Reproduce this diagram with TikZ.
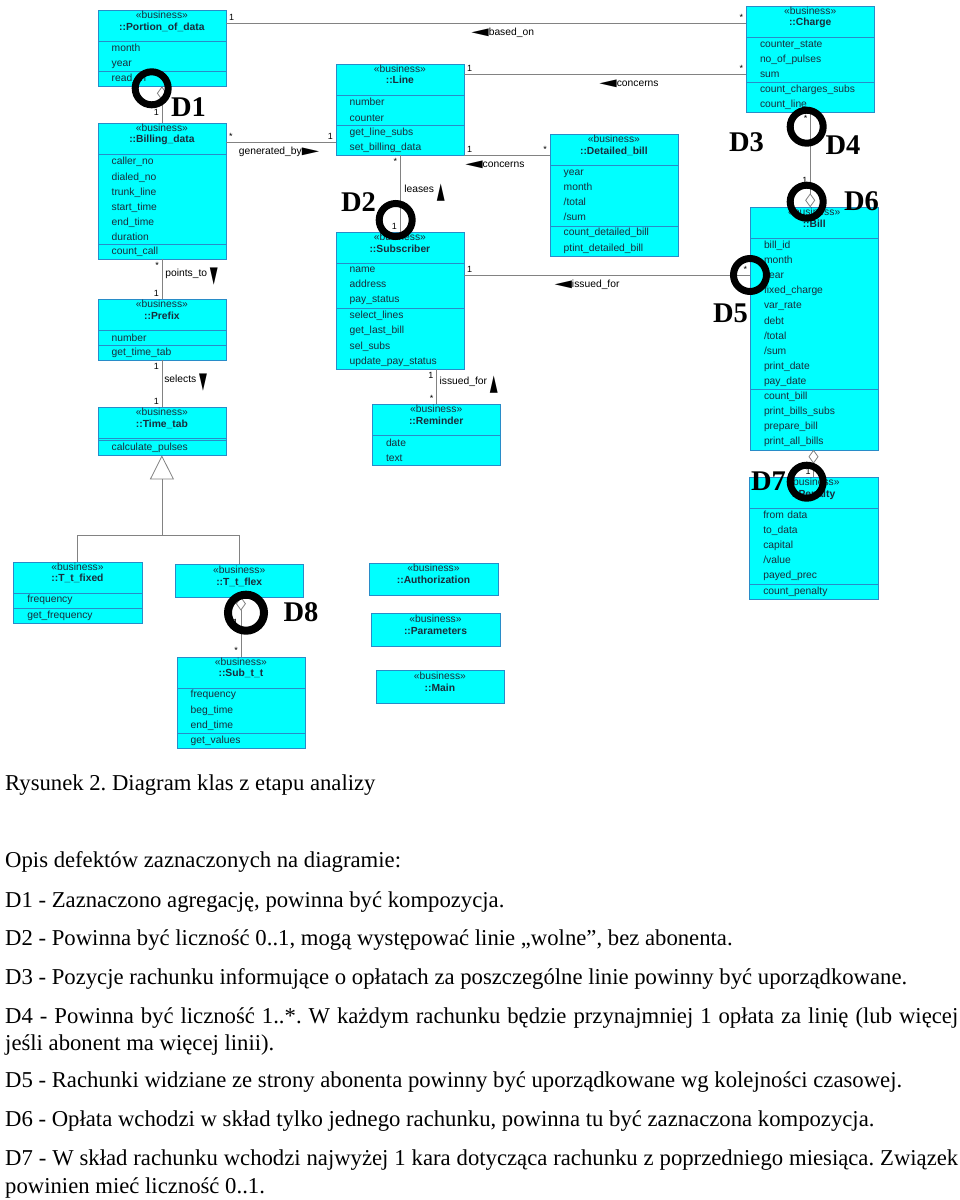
\documentclass[tikz,border=0pt]{standalone}
\usepackage{fontspec}
\setmainfont{Liberation Serif}
\setsansfont{Liberation Sans}
\newfontfamily\symfont{DejaVu Sans}
\usetikzlibrary{positioning, arrows.meta, calc}
\definecolor{clsfill}{RGB}{0,255,255}
\definecolor{clsline}{RGB}{40,140,200}
\definecolor{clstext}{RGB}{25,45,60}
\definecolor{assocgray}{RGB}{130,130,130}

\begin{document}
\frenchspacing
\begin{tikzpicture}[x=1pt, y=-1pt,
          hd/.style={draw=clsline, fill=clsfill, text=clstext, align=center, outer sep=0pt,
                     font=\sffamily\fontsize{10.3}{11.7}\selectfont, inner sep=0pt,
                     minimum width=128.4pt, minimum height=31pt, text depth=9.6pt},
          comp/.style={draw=clsline, fill=clsfill, text=clstext, align=left, outer sep=0pt,
                       font=\sffamily\fontsize{10.3}{15.1}\selectfont, text width=100.4pt,
                       inner xsep=14pt, inner ysep=0pt, minimum height=#1*15.1pt},
          as/.style={draw=assocgray, line width=0.8pt},
          m/.style={font=\sffamily\fontsize{9}{10}\selectfont, inner sep=2.5pt},
          lb/.style={font=\sffamily\fontsize{10.3}{12}\selectfont, inner sep=1pt},
          ring/.style={circle, draw=black, line width=7pt, minimum size=33pt, inner sep=0pt},
          dd/.style={font=\bfseries\fontsize{28.5}{30}\selectfont, inner sep=0pt},
          txt/.style={font=\fontsize{22.7}{27}\selectfont, anchor=west, inner sep=0pt}]
        \path[fill=white, use as bounding box] (0,0) rectangle (960,1200);

        \node[hd, anchor=north west] (pod) at (97.7,10) {«business»\\\textbf{::Portion\_of\_data}};
        \node[comp=2, below=0pt of pod] (pod-a) {month\\year};
        \node[comp=1, below=0pt of pod-a] (pod-o) {read\_in};

        \node[hd, anchor=north west] (bd) at (97.7,122.7) {«business»\\\textbf{::Billing\_data}};
        \node[comp=6, below=0pt of bd] (bd-a) {caller\_no\\dialed\_no\\trunk\_line\\start\_time\\end\_time\\duration};
        \node[comp=1, below=0pt of bd-a] (bd-o) {count\_call};

        \node[hd, anchor=north west] (pf) at (97.7,299) {«business»\\\textbf{::Prefix}};
        \node[comp=1, below=0pt of pf] (pf-a) {number};
        \node[comp=1, below=0pt of pf-a] (pf-o) {get\_time\_tab};

        \node[hd, anchor=north west] (tt) at (97.7,407) {«business»\\\textbf{::Time\_tab}};
        \node[comp=0.15, below=0pt of tt] (tt-a) {};
        \node[comp=1, below=0pt of tt-a] (tt-o) {calculate\_pulses};

        \node[hd, anchor=north west] (ln) at (335.7,63.7) {«business»\\\textbf{::Line}};
        \node[comp=2, below=0pt of ln] (ln-a) {number\\counter};
        \node[comp=2, below=0pt of ln-a] (ln-o) {get\_line\_subs\\set\_billing\_data};

        \node[hd, anchor=north west] (sb) at (335.7,232.3) {«business»\\\textbf{::Subscriber}};
        \node[comp=3, below=0pt of sb] (sb-a) {name\\address\\pay\_status};
        \node[comp=4, below=0pt of sb-a] (sb-o) {select\_lines\\get\_last\_bill\\sel\_subs\\update\_pay\_status};

        \node[hd, anchor=north west] (rm) at (372,404.3) {«business»\\\textbf{::Reminder}};
        \node[comp=2, below=0pt of rm] (rm-a) {date\\text};

        \node[hd, anchor=north west] (db) at (549.7,134.3) {«business»\\\textbf{::Detailed\_bill}};
        \node[comp=4, below=0pt of db] (db-a) {year\\month\\/total\\/sum};
        \node[comp=2, below=0pt of db-a] (db-o) {count\_detailed\_bill\\ptint\_detailed\_bill};

        \node[hd, anchor=north west] (ch) at (746,5.7) {«business»\\\textbf{::Charge}};
        \node[comp=3, below=0pt of ch] (ch-a) {counter\_state\\no\_of\_pulses\\sum};
        \node[comp=2, below=0pt of ch-a] (ch-o) {count\_charges\_subs\\count\_line};

        \node[hd, anchor=north west] (bl) at (750,207.3) {«business»\\\textbf{::Bill}};
        \node[comp=10, below=0pt of bl] (bl-a) {bill\_id\\month\\year\\fixed\_charge\\var\_rate\\debt\\/total\\/sum\\print\_date\\pay\_date};
        \node[comp=4, below=0pt of bl-a] (bl-o) {count\_bill\\print\_bills\_subs\\prepare\_bill\\print\_all\_bills};

        \node[hd, anchor=north west] (pn) at (749.3,477.3) {«business»\\\textbf{::Penalty}};
        \node[comp=5, below=0pt of pn] (pn-a) {from data\\to\_data\\capital\\/value\\payed\_prec};
        \node[comp=1, below=0pt of pn-a] (pn-o) {count\_penalty};

        \node[hd, anchor=north west] (tf) at (13.3,561.7) {«business»\\\textbf{::T\_t\_fixed}};
        \node[comp=1, below=0pt of tf] (tf-a) {frequency};
        \node[comp=1, below=0pt of tf-a] (tf-o) {get\_frequency};

        \node[hd, anchor=north west, minimum height=32.4pt] (tx) at (175,564.3) {«business»\\\textbf{::T\_t\_flex}};

        \node[hd, anchor=north west] (st) at (176.7,656.7) {«business»\\\textbf{::Sub\_t\_t}};
        \node[comp=3, below=0pt of st] (st-a) {frequency\\beg\_time\\end\_time};
        \node[comp=1, below=0pt of st-a] (st-o) {get\_values};

        \node[hd, anchor=north west, minimum height=32.3pt] (au) at (369.3,562.7) {«business»\\\textbf{::Authorization}};
        \node[hd, anchor=north west, minimum height=32.7pt] (pa) at (371.3,613) {«business»\\\textbf{::Parameters}};
        \node[hd, anchor=north west, minimum height=33pt] (mn) at (375.7,670.3) {«business»\\\textbf{::Main}};

        \draw[as] ([yshift=-13pt]pod.north east) -- ([yshift=-13pt]pod.north east -| ch.west)
            node[m, pos=0, above right] {1} node[m, pos=1, above left] {*}
            node[lb, pos=.532, below=4pt] {{\symfont\scalebox{2.2}[1]{◀}}based\_on};
        \draw[as] ([yshift=-10.3pt]ln.north east) -- ([yshift=-10.3pt]ln.north east -| ch.west)
            node[m, pos=0, above right] {1} node[m, pos=1, above left] {*}
            node[lb, pos=.585, below=4pt] {{\symfont\scalebox{2.2}[1]{◀}}concerns};
        \draw[as] (ln-o.south east) -- (ln-o.south east -| db.west)
            node[m, pos=0, above right] {1} node[m, pos=1, above left] {*}
            node[lb, pos=.36, below=4pt] {{\symfont\scalebox{2.2}[1]{◀}}concerns};
        \draw[as] ([yshift=-11.7pt]sb-a.north east) -- ([yshift=-11.7pt]sb-a.north east -| bl.west)
            node[m, pos=0, above right] {1} node[m, pos=1, above left] {*}
            node[lb, pos=.43, below=4pt] {{\symfont\scalebox{2.2}[1]{◀}}issued\_for};
        \draw[as] ([yshift=-19.3pt]bd.north east) -- ([yshift=-19.3pt]bd.north east -| ln.west)
            node[m, pos=0, above right] {*} node[m, pos=1, above left] {1}
            node[lb, pos=.483, below=4pt] {generated\_by{\symfont\scalebox{2.2}[1]{▶}}};

        \draw[as, {Diamond[open, length=14pt, width=10pt]}-] (pod-o.south) -- (bd.north)
            node[m, pos=1, above left, yshift=4pt] {1};
        \draw[as] (bd-o.south) -- (pf.north)
            node[m, pos=0, below left] {*} node[m, pos=1, above left] {1}
            node[lb, pos=.425, right=2pt] {points\_to \raisebox{-6pt}{\symfont\scalebox{1}[2.2]{▼}}};
        \draw[as] (pf-o.south) -- (tt.north)
            node[m, pos=0, below left] {1} node[m, pos=1, above left] {1}
            node[lb, pos=.47, right=1pt] {selects \raisebox{-6pt}{\symfont\scalebox{1}[2.2]{▼}}};
        \draw[as, -{Triangle[open, length=24pt, width=24pt]}] (tf.north) |- ([yshift=-80pt]tt-o.south) -- (tt-o.south);
        \draw[as] (tx.north) |- ([yshift=-80pt]tt-o.south);
        \draw[as, {Diamond[open, length=14pt, width=10pt]}-] (tx.south -| st.north) -- (st.north)
            node[m, pos=.42, left] {1} node[m, pos=1, above left] {*};

        \draw[as] (ln-o.south) -- (sb.north)
            node[m, pos=0, below left] {*} node[m, pos=1, above left] {1}
            node[lb, pos=.49, right=3pt] {leases \raisebox{-6pt}{\symfont\scalebox{1}[2.2]{▲}}};
        \draw[as] (rm.north) -- (rm.north |- sb-o.south)
            node[m, pos=0, above left] {*} node[m, pos=1, below left] {1}
            node[lb, pos=.55, right=2pt] {issued\_for \raisebox{-6pt}{\symfont\scalebox{1}[2.2]{▲}}};

        \draw[as, -{Diamond[open, length=14pt, width=10pt]}] (ch-o.south) -- (ch-o.south |- bl.north)
            node[m, pos=0, below left] {*} node[m, pos=.72, left] {1};
        \draw[as, {Diamond[open, length=14pt, width=10pt]}-] (bl-o.south -| pn.north) -- (pn.north)
            node[m, pos=1, above left] {1};

        \node[ring] (r1) at (151.7,88.3) {};
        \node[ring] (r2) at (395.7,220) {};
        \node[ring] (r4) at (806.7,126.7) {};
        \node[ring] (r6) at (806.7,201.7) {};
        \node[ring] (r5) at (750,275) {};
        \node[ring] (r7) at (806.7,481.7) {};
        \node[ring, line width=8pt, minimum size=36pt] (r8) at (246,612.7) {};
        \node[dd] (d1) at (188.5,107.5) {D1};
        \node[dd] (d2) at (358.5,202) {D2};
        \node[dd] (d3) at (746.5,142) {D3};
        \node[dd] (d4) at (843,145) {D4};
        \node[dd] (d5) at (730.5,313) {D5};
        \node[dd] (d6) at (861.5,201) {D6};
        \node[dd] (d7) at (768.5,481) {D7};
        \node[dd] (d8) at (301,612) {D8};

        \node[txt] (cap) at (5,785) {Rysunek 2. Diagram klas z etapu analizy};
        \node[txt] (opis) at (5,862) {Opis defektów zaznaczonych na diagramie:};
        \node[txt] (t1) at (5,902) {D1 - Zaznaczono agregację, powinna być kompozycja.};
        \node[txt] (t2) at (5,940) {D2 - Powinna być liczność 0..1, mogą występować linie „wolne”, bez abonenta.};
        \node[txt] (t3) at (5,979) {D3 - Pozycje rachunku informujące o opłatach za poszczególne linie powinny być uporządkowane.};
        \node[txt] (t4) at (5,1018) {\makebox[953pt][s]{D4 - Powinna być liczność 1..*. W każdym rachunku będzie przynajmniej 1 opłata za linię (lub więcej}};
        \node[txt] (t4b) at (5,1045) {jeśli abonent ma więcej linii).};
        \node[txt] (t5) at (5,1082) {D5 - Rachunki widziane ze strony abonenta powinny być uporządkowane wg kolejności czasowej.};
        \node[txt] (t6) at (5,1121) {D6 - Opłata wchodzi w skład tylko jednego rachunku, powinna tu być zaznaczona kompozycja.};
        \node[txt] (t7) at (5,1160) {\makebox[953pt][s]{D7 - W skład rachunku wchodzi najwyżej 1 kara dotycząca rachunku z poprzedniego miesiąca. Związek}};
        \node[txt] (t7b) at (5,1188) {powinien mieć liczność 0..1.};
      \end{tikzpicture}
\end{document}
